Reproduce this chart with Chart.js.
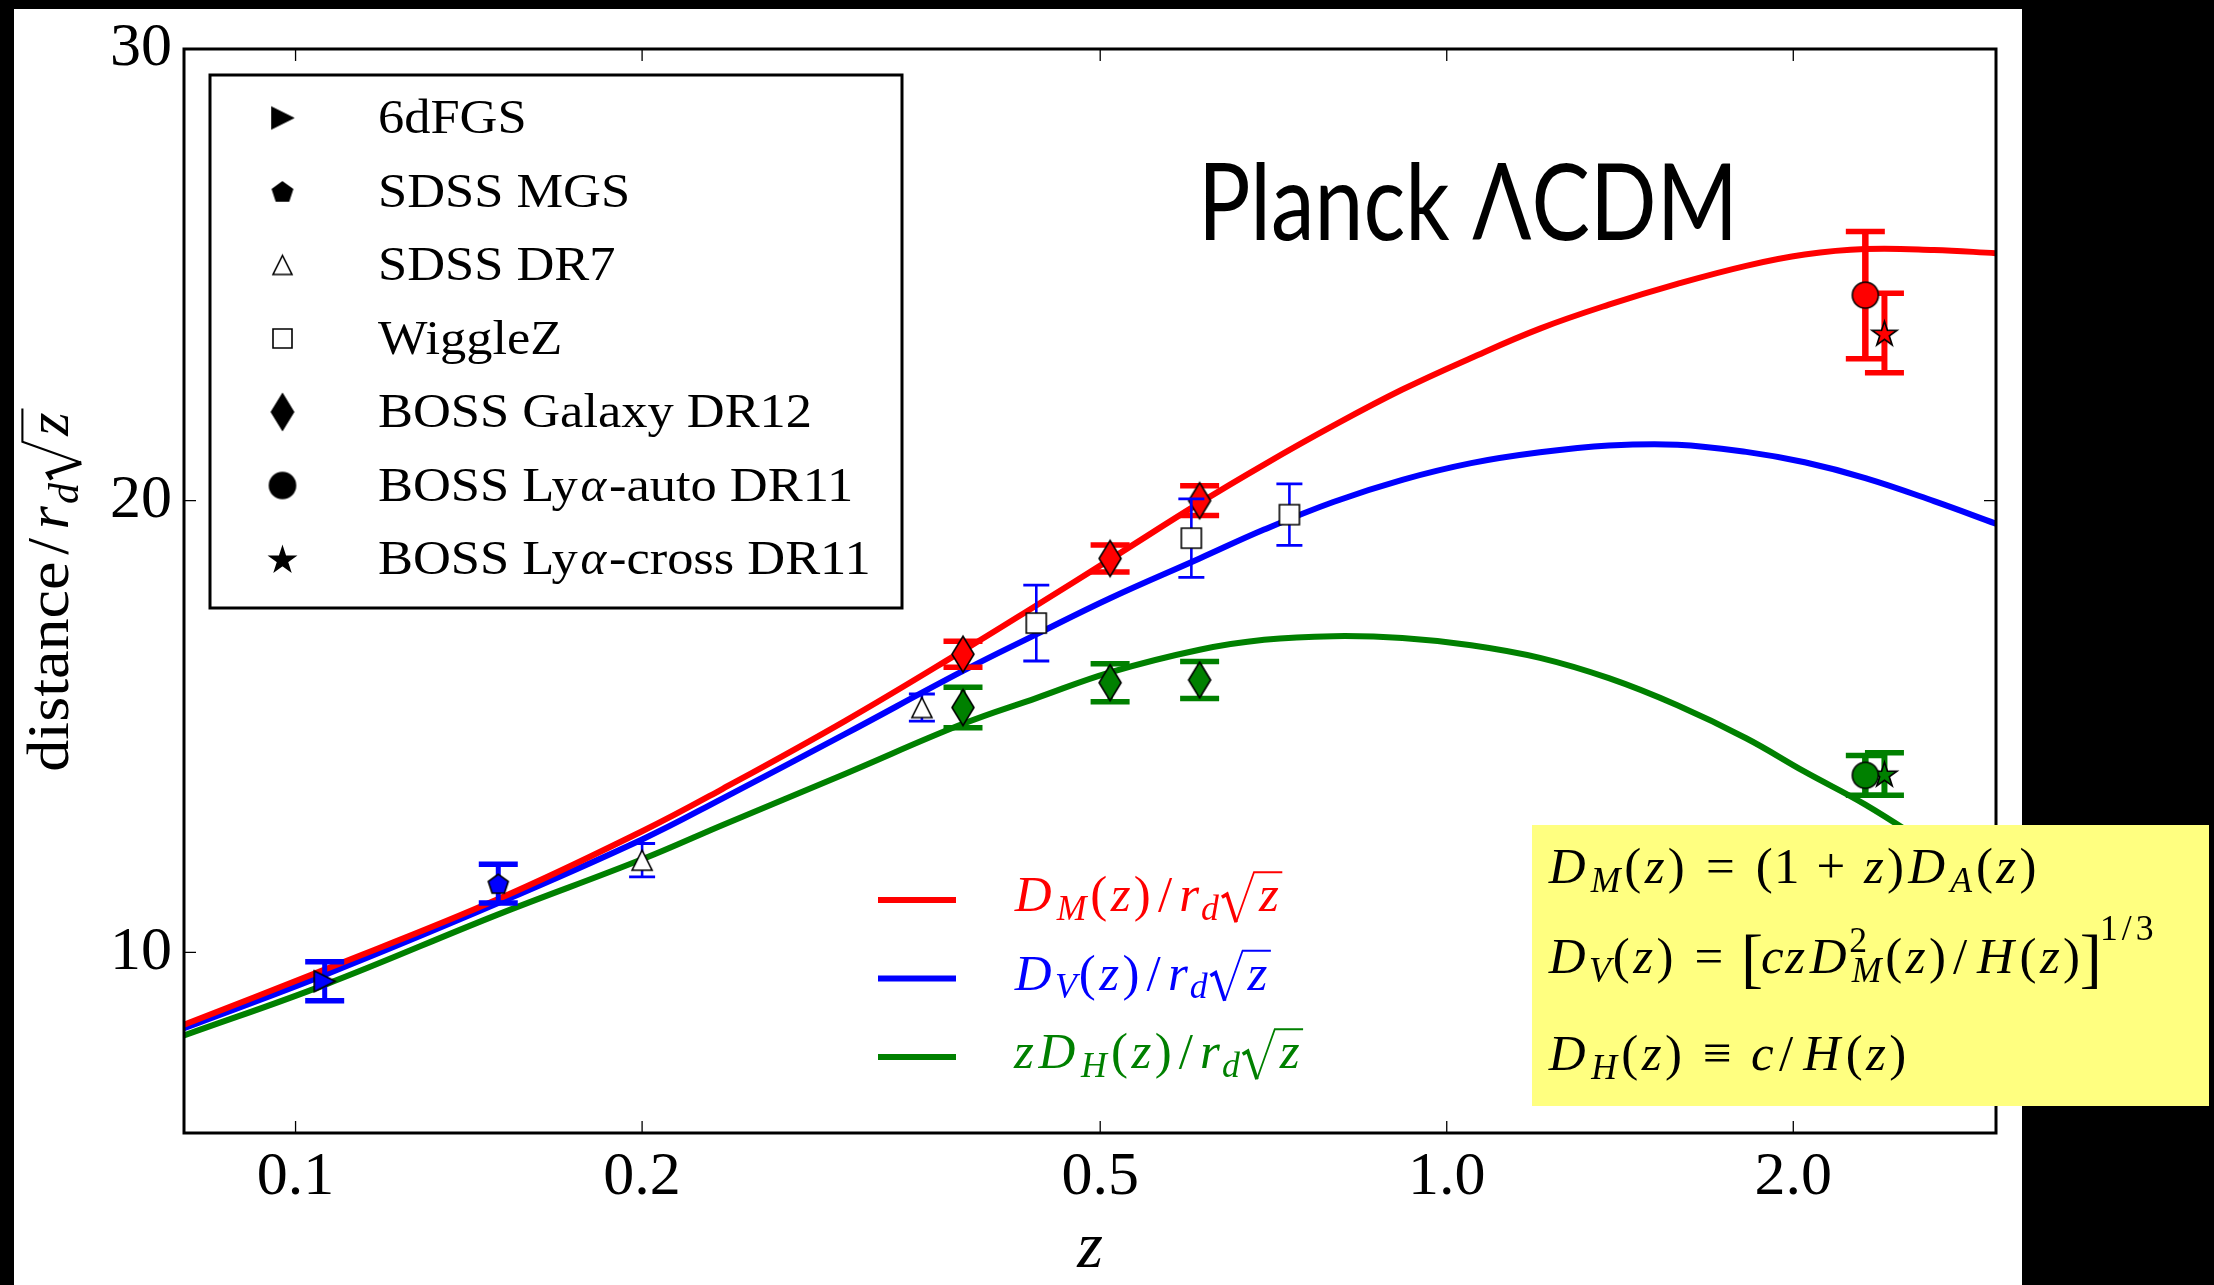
<!DOCTYPE html>
<html>
<head>
<meta charset="utf-8">
<title>BAO distances vs Planck LCDM</title>
<script src="https://cdn.jsdelivr.net/npm/chart.js@4.4.1/dist/chart.umd.min.js"></script>
<style>
  html, body { margin: 0; padding: 0; background: #000; }
  #wrap { position: relative; width: 2214px; height: 1285px; }
</style>
</head>
<body>
<div id="wrap"><canvas id="bao"></canvas></div>
<script>
const SERIF = '"Liberation Serif", "Times New Roman", serif';
const RED = '#ff0000', BLUE = '#0000ff', GREEN = '#008000';

// axis ticks
const zTicks = [0.1, 0.2, 0.5, 1.0, 2.0];
const yTicks = [10, 20, 30];

// Planck LCDM model curves, sampled in redshift
const zModel  = [0.08, 0.106, 0.15, 0.2, 0.235, 0.3, 0.38, 0.44, 0.51, 0.61, 0.694, 0.797, 0.915, 1.05, 1.205, 1.383, 1.586, 1.82, 2.046, 2.31, 2.65, 3.0];
const dmModel = [8.40, 9.62, 11.18, 12.68, 13.62, 15.12, 16.68, 17.68, 18.70, 19.95, 20.80, 21.66, 22.46, 23.16, 23.81, 24.34, 24.80, 25.20, 25.45, 25.57, 25.55, 25.48];
const dvModel = [8.32, 9.50, 11.09, 12.50, 13.41, 14.83, 16.23, 17.04, 17.84, 18.72, 19.36, 19.97, 20.46, 20.83, 21.07, 21.22, 21.24, 21.08, 20.85, 20.50, 19.99, 19.49];
const dhModel = [8.16, 9.28, 10.84, 12.06, 12.82, 13.95, 15.06, 15.63, 16.20, 16.70, 16.92, 17.00, 16.96, 16.80, 16.52, 16.07, 15.47, 14.74, 14.00, 13.27, 12.31, 11.44];

// measurements
const z6df = [0.106],  dv6df = [9.36],  dv6dfErr = [0.43];
const zMgs = [0.15],   dvMgs = [11.52], dvMgsErr = [0.43];
const zDr7 = [0.2, 0.35], dvDr7 = [12.04, 15.42], dvDr7Err = [0.37, 0.30];
const zWig = [0.44, 0.6, 0.73], dvWig = [17.29, 19.17, 19.69], dvWigErr = [0.84, 0.87, 0.68];
const zBoss = [0.38, 0.51, 0.61];
const dmBoss = [16.60, 18.72, 20.00], dmBossErr = [0.29, 0.30, 0.33];
const dhBoss = [15.42, 15.97, 16.03], dhBossErr = [0.45, 0.42, 0.41];
const zLyaAuto = [2.31],  dmLyaAuto = [24.55],  dmLyaAutoErr = [1.41],  dhLyaAuto = [13.92],  dhLyaAutoErr = [0.44];
const zLyaCross = [2.40], dmLyaCross = [23.71], dmLyaCrossErr = [0.88], dhLyaCross = [13.95], dhLyaCrossErr = [0.47];

function pts(zs, vs) { return zs.map((z, i) => ({ x: z, y: vs[i] })); }

// marker sprites (matplotlib-like shapes with a black edge)
function marker(shape, fill, w, h) {
  const pad = 3;
  const cv = document.createElement('canvas');
  cv.width = Math.round(w + 2 * pad);
  cv.height = Math.round(h + 2 * pad);
  const c = cv.getContext('2d');
  c.translate(cv.width / 2, cv.height / 2);
  const a = w / 2, b = h / 2;
  c.beginPath();
  if (shape === 'tri-right') {
    c.moveTo(a, 0); c.lineTo(-a, -b); c.lineTo(-a, b);
  } else if (shape === 'tri-up') {
    c.moveTo(0, -b); c.lineTo(a, b); c.lineTo(-a, b);
  } else if (shape === 'square') {
    c.rect(-a, -b, w, h);
  } else if (shape === 'diamond') {
    c.moveTo(0, -b); c.lineTo(a, 0); c.lineTo(0, b); c.lineTo(-a, 0);
  } else if (shape === 'circle') {
    c.arc(0, 0, a, 0, Math.PI * 2);
  } else if (shape === 'pentagon') {
    const r = w / 1.902;
    for (let k = 0; k < 5; k++) {
      const t = -Math.PI / 2 + k * 2 * Math.PI / 5;
      c.lineTo(r * Math.cos(t), r * Math.sin(t) + r * 0.1);
    }
  } else if (shape === 'star') {
    const R = w / 1.902, ri = R * 0.382;
    for (let k = 0; k < 10; k++) {
      const t = -Math.PI / 2 + k * Math.PI / 5;
      const rr = k % 2 ? ri : R;
      c.lineTo(rr * Math.cos(t), rr * Math.sin(t) + R * 0.1);
    }
  }
  c.closePath();
  c.fillStyle = fill;
  c.fill();
  c.lineWidth = 1.6;
  c.strokeStyle = '#000';
  c.stroke();
  return cv;
}

const thick = { errWidth: 5, capThick: 5.5, capHalf: 19.5 };
const thin = { errWidth: 2.6, capThick: 2.8, capHalf: 13 };

function curve(label, vs, color) {
  return {
    label, data: pts(zModel, vs), borderColor: color, borderWidth: 6,
    pointRadius: 0, tension: 0.4, fill: false, order: 10
  };
}

function survey(label, zs, vs, errs, errColor, sprite, bar) {
  return Object.assign({
    label, data: pts(zs, vs), showLine: false, pointStyle: sprite,
    pointRadius: 10, yErr: errs, errColor, order: 1
  }, bar);
}

const datasets = [
  curve('DM', dmModel, RED),
  curve('DV', dvModel, BLUE),
  curve('zDH', dhModel, GREEN),
  survey('6dFGS', z6df, dv6df, dv6dfErr, BLUE, marker('tri-right', BLUE, 21, 21), thick),
  survey('SDSS MGS', zMgs, dvMgs, dvMgsErr, BLUE, marker('pentagon', BLUE, 20, 19), thick),
  survey('SDSS DR7', zDr7, dvDr7, dvDr7Err, BLUE, marker('tri-up', '#fff', 20, 20), thin),
  survey('WiggleZ', zWig, dvWig, dvWigErr, BLUE, marker('square', '#fff', 20, 20), thin),
  survey('BOSS DR12 DM', zBoss, dmBoss, dmBossErr, RED, marker('diamond', RED, 22, 36), thick),
  survey('BOSS DR12 DH', zBoss, dhBoss, dhBossErr, GREEN, marker('diamond', GREEN, 22, 36), thick),
  survey('Lya auto DM', zLyaAuto, dmLyaAuto, dmLyaAutoErr, RED, marker('circle', RED, 26, 26), Object.assign({}, thick, { errWidth: 6.5 })),
  survey('Lya auto DH', zLyaAuto, dhLyaAuto, dhLyaAutoErr, GREEN, marker('circle', GREEN, 26, 26), Object.assign({}, thick, { errWidth: 6.5 })),
  survey('Lya cross DM', zLyaCross, dmLyaCross, dmLyaCrossErr, RED, marker('star', RED, 25, 24), Object.assign({}, thick, { errWidth: 6 })),
  survey('Lya cross DH', zLyaCross, dhLyaCross, dhLyaCrossErr, GREEN, marker('star', GREEN, 25, 24), Object.assign({}, thick, { errWidth: 6 }))
];

// small TeX-like typesetter: words, math italics, sub/superscripts, radicals
const ADV = {
  'D': 0.828, 'M': 0.97, 'V': 0.65, 'A': 0.75, 'H': 0.888, 'z': 0.465, 'r': 0.451, 'd': 0.52, 'c': 0.433, 'α': 0.64,
  '(': 0.389, ')': 0.389, '/': 0.5, '[': 0.278, ']': 0.278, '1': 0.5, '2': 0.5, '3': 0.5,
  '=': 0.778, '+': 0.778, '≡': 0.778
};
const WORD_SX = 1.07;

const W = t => ({ t, word: true });
const R = (t, sp) => ({ t, sp: sp || 0 });
const I = t => ({ t, it: true });
const Sub = (t, it = true) => ({ t, it, sub: true });
const Sup = (t, dy) => ({ t, sup: true, dy: dy || 0 });
const Sq = t => ({ t, it: true, sqrt: true });

function drawMath(c, x, y, runs, size, color, align) {
  const items = [];
  let cx = 0, prevStart = 0;
  runs.forEach(r => {
    let s = size * (r.k || 1), dy = (r.dy || 0) * size;
    if (r.sub) { s = size * 0.7; dy += size * 0.17; }
    if (r.sup) { s = size * 0.7; dy -= size * 0.42; }
    if (r.back) cx = prevStart;
    const font = (r.it ? 'italic ' : '') + s.toFixed(1) + 'px ' + SERIF;
    c.font = font;
    const start = cx;
    cx += (r.sp || 0) * size;
    if (r.sqrt) cx += size * 0.74;
    const glyphs = [];
    if (r.word) {
      const w = c.measureText(r.t).width * WORD_SX;
      glyphs.push({ ch: r.t, x: cx, sx: WORD_SX });
      cx += w;
    } else {
      for (const ch of r.t) {
        const m = c.measureText(ch).width;
        const adv = ADV[ch] !== undefined ? ADV[ch] * s : m;
        glyphs.push({ ch, x: cx + (adv - m) / 2, sx: 1 });
        cx += adv;
      }
    }
    items.push({ font, dy, glyphs, sqrt: r.sqrt, x0: start, x1: cx });
    cx += (r.sp || 0) * size;
    prevStart = start;
  });
  const off = align === 'center' ? -cx / 2 : 0;
  c.fillStyle = color;
  c.strokeStyle = color;
  c.textAlign = 'left';
  c.textBaseline = 'alphabetic';
  items.forEach(it => {
    c.font = it.font;
    it.glyphs.forEach(g => {
      c.save();
      c.translate(x + off + g.x, y + it.dy);
      c.scale(g.sx, 1);
      c.fillText(g.ch, 0, 0);
      c.restore();
    });
    if (it.sqrt) {
      const s = size, bx = x + off + it.x0, top = y - s * 0.76;
      c.lineJoin = 'miter';
      c.lineWidth = s * 0.07;
      c.beginPath();
      c.moveTo(bx + 0.05 * s, y - 0.27 * s);
      c.lineTo(bx + 0.15 * s, y - 0.33 * s);
      c.lineTo(bx + 0.33 * s, y + 0.22 * s);
      c.stroke();
      c.lineWidth = s * 0.035;
      c.beginPath();
      c.moveTo(bx + 0.33 * s, y + 0.22 * s);
      c.lineTo(bx + 0.68 * s, top);
      c.lineTo(x + off + it.x1 + 0.03 * s, top);
      c.stroke();
    }
  });
  return cx;
}

// legend rows for the surveys (black markers)
const legendRows = [
  { mark: marker('tri-right', '#000', 21, 21), text: [W('6dFGS')] },
  { mark: marker('pentagon', '#000', 20, 19), text: [W('SDSS MGS')] },
  { mark: marker('tri-up', '#fff', 19, 19), text: [W('SDSS DR7')] },
  { mark: marker('square', '#fff', 19, 19), text: [W('WiggleZ')] },
  { mark: marker('diamond', '#000', 22, 36), text: [W('BOSS Galaxy DR12')] },
  { mark: marker('circle', '#000', 26, 26), text: [W('BOSS Ly'), I('α'), W('-auto DR11')] },
  { mark: marker('star', '#000', 25, 24), text: [W('BOSS Ly'), I('α'), W('-cross DR11')] }
];

const curveKey = [
  { color: RED,   text: [I('D'), Sub('M'), R('('), I('z'), R(')'), R('/'), I('r'), Sub('d'), Sq('z')] },
  { color: BLUE,  text: [I('D'), Sub('V'), R('('), I('z'), R(')'), R('/'), I('r'), Sub('d'), Sq('z')] },
  { color: GREEN, text: [I('z'), I('D'), Sub('H'), R('('), I('z'), R(')'), R('/'), I('r'), Sub('d'), Sq('z')] }
];

const formulas = [
  [I('D'), Sub('M'), R('('), I('z'), R(')'), R('=', 0.278), R('(1'), R('+', 0.222), I('z'), R(')'), I('D'), Sub('A'), R('('), I('z'), R(')')],
  [I('D'), Sub('V'), R('('), I('z'), R(')'), R('=', 0.278), { t: '[', k: 1.3, dy: 0.13 }, I('cz'), I('D'), Sup('2'),
   { t: 'M', it: true, sub: true, back: true }, R('('), I('z'), R(')'), R('/'), I('H'), R('('), I('z'), R(')'),
   { t: ']', k: 1.3, dy: 0.13 }, Sup('1/3', -0.22)],
  [I('D'), Sub('H'), R('('), I('z'), R(')'), R('≡', 0.278), I('c'), R('/'), I('H'), R('('), I('z'), R(')')]
];

// black page with the white figure area
const backdrop = {
  id: 'backdrop',
  beforeDraw(chart) {
    const c = chart.ctx;
    c.save();
    c.fillStyle = '#000';
    c.fillRect(0, 0, chart.width, chart.height);
    c.fillStyle = '#fff';
    c.fillRect(14, 9, 2008, chart.height - 9);
    c.restore();
  }
};

// vertical error bars with caps, drawn under each survey's markers
const errorBars = {
  id: 'errorBars',
  beforeDatasetDraw(chart, args) {
    const ds = chart.data.datasets[args.index];
    if (!ds.yErr) return;
    const c = chart.ctx, ys = chart.scales.y;
    c.save();
    c.strokeStyle = ds.errColor;
    c.lineCap = 'butt';
    args.meta.data.forEach((pt, j) => {
      const v = ds.data[j].y, e = ds.yErr[j];
      const top = ys.getPixelForValue(v + e), bot = ys.getPixelForValue(v - e);
      c.lineWidth = ds.errWidth;
      c.beginPath();
      c.moveTo(pt.x, top); c.lineTo(pt.x, bot);
      c.stroke();
      c.lineWidth = ds.capThick;
      c.beginPath();
      c.moveTo(pt.x - ds.capHalf, top); c.lineTo(pt.x + ds.capHalf, top);
      c.moveTo(pt.x - ds.capHalf, bot); c.lineTo(pt.x + ds.capHalf, bot);
      c.stroke();
    });
    c.restore();
  }
};

const decor = {
  id: 'decor',
  afterDraw(chart) {
    const c = chart.ctx, a = chart.chartArea, xs = chart.scales.x, ys = chart.scales.y;
    c.save();

    // survey legend
    c.fillStyle = '#fff';
    c.fillRect(210, 75, 692, 533);
    c.strokeStyle = '#000';
    c.lineWidth = 3;
    c.strokeRect(210, 75, 692, 533);
    legendRows.forEach((row, i) => {
      const cy = 118 + i * 73.5;
      c.drawImage(row.mark, 282.5 - row.mark.width / 2, cy - row.mark.height / 2);
      drawMath(c, 378, cy + 15, row.text, 49, '#000');
    });

    // model curve key
    curveKey.forEach((row, i) => {
      const base = 911 + i * 78.5;
      c.strokeStyle = row.color;
      c.lineWidth = 6;
      c.beginPath();
      c.moveTo(878, base - 11); c.lineTo(956, base - 11);
      c.stroke();
      drawMath(c, 1012, base, row.text, 51, row.color);
    });

    // model label, squeezed to the width of the original lettering
    c.fillStyle = '#000';
    c.font = '106px Lato';
    c.textAlign = 'left';
    c.textBaseline = 'alphabetic';
    const lw = c.measureText('Planck ΛCDM').width;
    c.save();
    c.translate(1198, 240);
    c.scale(540 / lw, 1);
    c.fillText('Planck ΛCDM', 0, 0);
    c.restore();

    // axes frame and inward ticks on all four sides
    c.strokeStyle = '#000';
    c.lineWidth = 3;
    c.strokeRect(a.left, a.top, a.right - a.left, a.bottom - a.top);
    c.lineWidth = 1.3;
    c.beginPath();
    zTicks.forEach(v => {
      const x = xs.getPixelForValue(v);
      c.moveTo(x, a.bottom); c.lineTo(x, a.bottom - 12);
      c.moveTo(x, a.top); c.lineTo(x, a.top + 12);
    });
    yTicks.forEach(v => {
      const y = ys.getPixelForValue(v);
      c.moveTo(a.left, y); c.lineTo(a.left + 12, y);
      c.moveTo(a.right, y); c.lineTo(a.right - 12, y);
    });
    c.stroke();

    // definitions box
    c.fillStyle = '#ffff80';
    c.fillRect(1532, 825, 677, 281);
    drawMath(c, 1546, 883, formulas[0], 51, '#000');
    drawMath(c, 1546, 973, formulas[1], 51, '#000');
    drawMath(c, 1546, 1070, formulas[2], 51, '#000');

    // axis titles
    c.save();
    c.translate(68, (a.top + a.bottom) / 2);
    c.rotate(-Math.PI / 2);
    drawMath(c, 0, 0, [W('distance'), R('/'), I('r'), Sub('d'), Sq('z')], 60, '#000', 'center');
    c.restore();
    drawMath(c, (a.left + a.right) / 2, 1267, [I('z')], 66, '#000', 'center');

    c.restore();
  }
};

Chart.defaults.font.family = SERIF;
Chart.defaults.color = '#000';

new Chart(document.getElementById('bao'), {
  type: 'line',
  data: { datasets },
  options: {
    responsive: true,
    maintainAspectRatio: false,
    animation: false,
    layout: { padding: { left: 0, top: 49, right: 218, bottom: 0 } },
    plugins: { legend: { display: false }, tooltip: { enabled: false } },
    scales: {
      x: {
        type: 'logarithmic',
        min: 0.08,
        max: 3.0,
        grid: { display: false, drawTicks: false },
        border: { display: false },
        ticks: {
          font: { size: 62 }, padding: 8, autoSkip: false, maxRotation: 0,
          callback: v => Number(v).toFixed(1)
        },
        afterBuildTicks: s => { s.ticks = zTicks.map(v => ({ value: v })); },
        afterFit: s => { s.height = 152; s.paddingLeft = 0; s.paddingRight = 0; }
      },
      y: {
        type: 'linear',
        min: 6,
        max: 30,
        grid: { display: false, drawTicks: false },
        border: { display: false },
        ticks: { font: { size: 62 }, padding: 12 },
        afterBuildTicks: s => { s.ticks = yTicks.map(v => ({ value: v })); },
        afterFit: s => { s.width = 184; s.paddingTop = 0; s.paddingBottom = 0; }
      }
    }
  },
  plugins: [backdrop, errorBars, decor]
});
</script>
</body>
</html>
